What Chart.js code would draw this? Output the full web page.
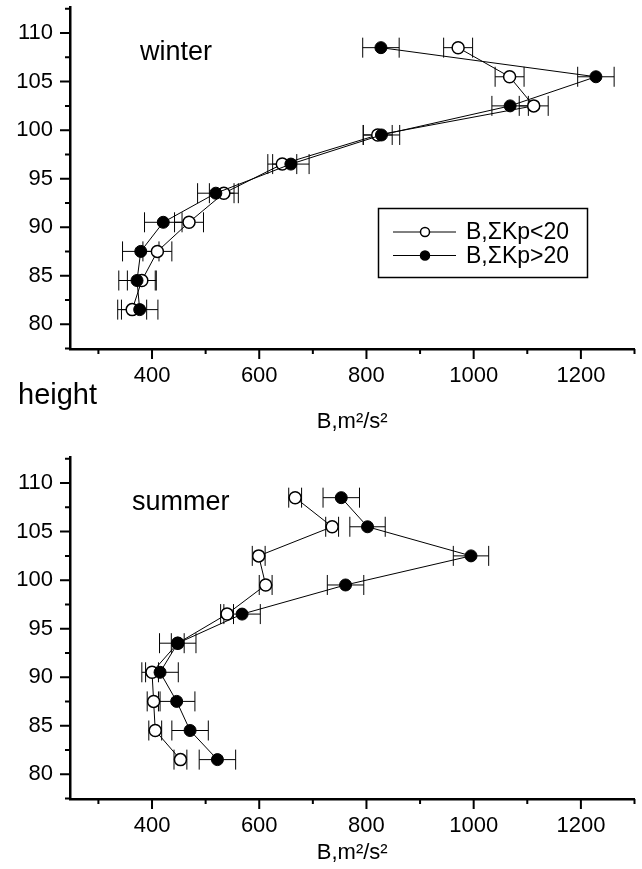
<!DOCTYPE html>
<html>
<head>
<meta charset="utf-8">
<script src="https://cdn.jsdelivr.net/npm/chart.js@4/dist/chart.umd.min.js"></script>
<style>
  html, body { margin: 0; padding: 0; background: #fff; }
  body { width: 642px; height: 869px; position: relative; overflow: hidden; }
  .panel { position: absolute; left: 0; }
</style>
</head>
<body>
<div class="panel" style="top:0"><canvas id="winterChart" width="642" height="435"></canvas></div>
<div class="panel" style="top:450px"><canvas id="summerChart" width="642" height="416"></canvas></div>
<script>
const FONT = "'Liberation Sans', Arial, sans-serif";

// heights (km) shared by all series
const heights = [81.5, 84.5, 87.5, 90.5, 93.5, 96.5, 99.5, 102.5, 105.5, 108.5];

// winter
const winterLow = [363, 381, 410, 469, 534, 643, 821, 1112, 1067, 971];
const winterLowErr = [27, 27, 27, 27, 27, 27, 27, 27, 27, 27];
const winterHigh = [377, 372, 379, 421, 519, 659, 828, 1068, 1228, 827];
const winterHighErr = [34, 34, 34, 35, 34, 34, 34, 34, 34, 34];

// summer
const summerLow = [453, 406, 403, 400, 448, 540, 612, 599, 736, 667];
const summerLowErr = [12, 12, 12, 12, 12, 12, 12, 12, 12, 12];
const summerHigh = [522, 471, 446, 415, 448, 568, 761, 995, 802, 753];
const summerHighErr = [34, 34, 34, 34, 34, 34, 34, 33, 33, 34];

const seriesLabels = ['B,\u03A3Kp<20', 'B,\u03A3Kp>20'];
const xLabels = [400, 600, 800, 1000, 1200];
const yLabels = [80, 85, 90, 95, 100, 105, 110];

function isLabel(list, v) {
    return list.some(l => Math.abs(l - v) < 1e-6);
}

function points(xs, errs) {
    return xs.map((x, i) => ({ x: x, y: heights[i], err: errs[i] }));
}

// horizontal error bars with caps
const errorBars = {
    id: 'errorBars',
    beforeDatasetsDraw(chart) {
        const { ctx, scales: { x, y } } = chart;
        ctx.save();
        ctx.strokeStyle = '#000';
        ctx.lineWidth = 1;
        chart.data.datasets.forEach(ds => {
            ds.data.forEach(p => {
                const x0 = x.getPixelForValue(p.x - p.err);
                const x1 = x.getPixelForValue(p.x + p.err);
                const py = y.getPixelForValue(p.y);
                ctx.beginPath();
                ctx.moveTo(x0, py); ctx.lineTo(x1, py);
                ctx.moveTo(x0, py - 10); ctx.lineTo(x0, py + 10);
                ctx.moveTo(x1, py - 10); ctx.lineTo(x1, py + 10);
                ctx.stroke();
            });
        });
        ctx.restore();
    },
};

// outward ticks, long at labelled values, short in between
const axisTicks = {
    id: 'axisTicks',
    afterDraw(chart) {
        const { ctx, chartArea: a, scales: { x, y } } = chart;
        ctx.save();
        ctx.strokeStyle = '#000';
        ctx.lineWidth = 2;
        ctx.beginPath();
        x.ticks.forEach(t => {
            const px = x.getPixelForValue(t.value);
            const len = isLabel(xLabels, t.value) ? 10 : 5;
            ctx.moveTo(px, a.bottom); ctx.lineTo(px, a.bottom + len);
        });
        y.ticks.forEach(t => {
            const py = y.getPixelForValue(t.value);
            const len = isLabel(yLabels, t.value) ? 10 : 5;
            ctx.moveTo(a.left, py); ctx.lineTo(a.left - len, py);
        });
        ctx.stroke();
        ctx.restore();
    },
};

// free text on the canvas (season name, "height")
const panelText = {
    id: 'panelText',
    afterDraw(chart, args, opts) {
        const ctx = chart.ctx;
        ctx.save();
        ctx.fillStyle = '#000';
        ctx.textBaseline = 'alphabetic';
        ctx.textAlign = 'left';
        (opts.items || []).forEach(it => {
            ctx.font = it.size + 'px ' + FONT;
            ctx.fillText(it.text, it.x, it.y);
        });
        ctx.restore();
    },
};

// boxed legend inside the winter panel
const boxLegend = {
    id: 'boxLegend',
    afterDraw(chart, args, opts) {
        if (!opts.show) return;
        const ctx = chart.ctx;
        ctx.save();
        ctx.strokeStyle = '#000';
        ctx.lineWidth = 1.5;
        ctx.strokeRect(378.5, 208.5, 209, 69);
        ctx.font = '23px ' + FONT;
        ctx.textBaseline = 'middle';
        ctx.fillStyle = '#000';
        chart.data.datasets.forEach((ds, i) => {
            const cy = 232 + i * 23.5;
            ctx.lineWidth = 1;
            ctx.beginPath();
            ctx.moveTo(393, cy); ctx.lineTo(456, cy);
            ctx.stroke();
            ctx.beginPath();
            ctx.arc(425, cy, 4.5, 0, Math.PI * 2);
            ctx.fillStyle = ds.pointBackgroundColor;
            ctx.fill();
            ctx.lineWidth = 1.5;
            ctx.stroke();
            ctx.fillStyle = '#000';
            ctx.fillText(ds.label, 466, cy + 1);
        });
        ctx.restore();
    },
};

function makeDatasets(low, lowErr, high, highErr) {
    return [
        {
            label: seriesLabels[0],
            data: points(low, lowErr),
            showLine: true,
            borderColor: '#000',
            borderWidth: 1,
            pointRadius: 6,
            pointBackgroundColor: '#fff',
            pointBorderColor: '#000',
            pointBorderWidth: 1.5,
            order: 1,
        },
        {
            label: seriesLabels[1],
            data: points(high, highErr),
            showLine: true,
            borderColor: '#000',
            borderWidth: 1,
            pointRadius: 6,
            pointBackgroundColor: '#000',
            pointBorderColor: '#000',
            pointBorderWidth: 1,
            order: 0,
        },
    ];
}

function makeChart(canvasId, datasets, canvasHeight, textItems, withLegend) {
    const ctx = document.getElementById(canvasId);
    return new Chart(ctx, {
        type: 'scatter',
        data: { datasets },
        options: {
            responsive: false,
            animation: false,
            devicePixelRatio: 1,
            layout: { padding: { top: 6, right: 3, left: 0, bottom: 0 } },
            plugins: {
                legend: { display: false },
                tooltip: { enabled: false },
                panelText: { items: textItems },
                boxLegend: { show: withLegend },
            },
            scales: {
                x: {
                    type: 'linear',
                    min: 247, max: 1300,
                    grid: { display: false, drawTicks: false },
                    border: { display: true, color: '#000', width: 2.5 },
                    ticks: {
                        stepSize: 100,
                        includeBounds: false,
                        autoSkip: false,
                        maxRotation: 0,
                        padding: 14,
                        color: '#000',
                        font: { family: FONT, size: 22 },
                        callback: v => isLabel(xLabels, v) ? String(Math.round(v)) : '',
                    },
                    title: {
                        display: true,
                        text: 'B,m\u00B2/s\u00B2',
                        color: '#000',
                        font: { family: FONT, size: 22 },
                        padding: 0,
                    },
                    afterFit: s => {
                        s.height = canvasHeight - 349;
                        s.paddingLeft = 0;
                        s.paddingRight = 0;
                    },
                },
                y: {
                    type: 'linear',
                    min: 77.44, max: 112.64,
                    grid: { display: false, drawTicks: false },
                    border: { display: true, color: '#000', width: 2.5 },
                    ticks: {
                        stepSize: 2.5,
                        includeBounds: false,
                        autoSkip: false,
                        padding: 17,
                        color: '#000',
                        font: { family: FONT, size: 22 },
                        callback: v => isLabel(yLabels, v) ? String(Math.round(v)) : '',
                    },
                    afterFit: s => {
                        s.width = 70;
                        s.paddingTop = 0;
                        s.paddingBottom = 0;
                    },
                },
            },
        },
        plugins: [errorBars, axisTicks, panelText, boxLegend],
    });
}

makeChart('winterChart',
    makeDatasets(winterLow, winterLowErr, winterHigh, winterHighErr),
    435,
    [{ text: 'winter', x: 140, y: 60, size: 27 }, { text: 'height', x: 18, y: 404, size: 29 }],
    true);

makeChart('summerChart',
    makeDatasets(summerLow, summerLowErr, summerHigh, summerHighErr),
    416,
    [{ text: 'summer', x: 132, y: 60, size: 27 }],
    false);
</script>
</body>
</html>
